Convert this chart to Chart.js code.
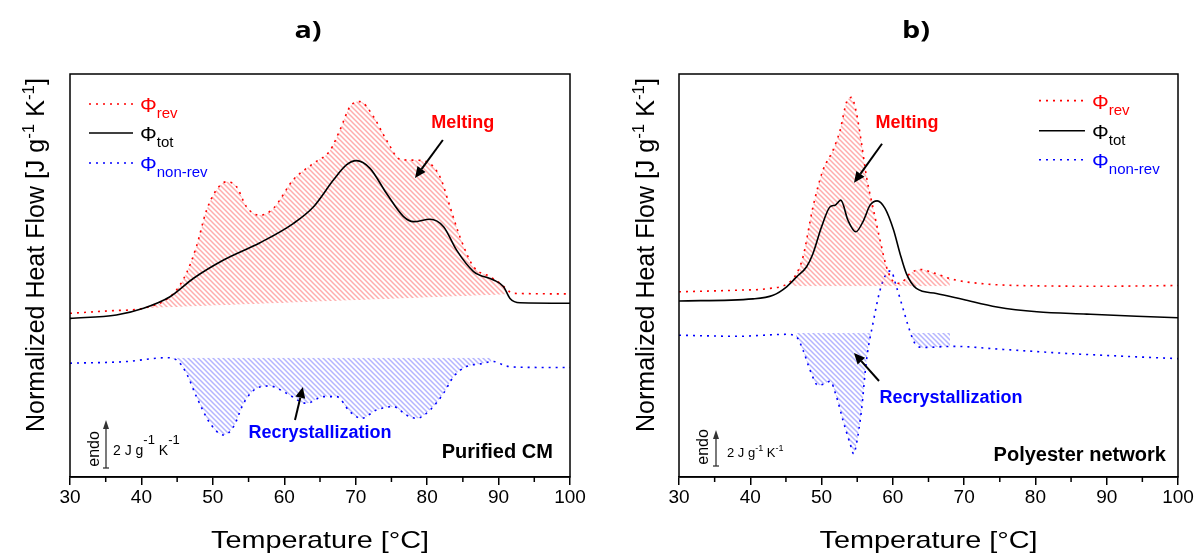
<!DOCTYPE html>
<html>
<head>
<meta charset="utf-8">
<script src="https://cdn.jsdelivr.net/npm/chart.js@4.4.1/dist/chart.umd.min.js"></script>
<style>
html, body { margin: 0; padding: 0; background: #fff; }
#wrap { position: relative; width: 1199px; height: 555px; overflow: hidden; }
canvas { position: absolute; top: 0; }
#chartA { left: 0; }
#chartB { left: 600px; }
</style>
</head>
<body>
<div id="wrap">
  <canvas id="chartA" width="600" height="555"></canvas>
  <canvas id="chartB" width="599" height="555"></canvas>
</div>
<script>
// x ticks (temperature, °C)
const xTicks = [30, 40, 50, 60, 70, 80, 90, 100];
const xMinor = [35, 45, 55, 65, 75, 85, 95];

// PANEL a) Purified CM  (heat flow in J g-1 K-1, arbitrary offset)
const tRevA = [30, 36, 40.3, 44.5, 46.3, 47.7, 49.1, 50.5, 51.9, 53.3, 54.7, 56.6, 58.5, 61.3, 64.1, 66.4, 67.8, 69.2, 70.6, 72.5, 74.3, 76.2, 78.1, 79.9, 81.8, 83.2, 84.6, 86.5, 88.8, 90.2, 92.1, 100];
const revA  = [6.82, 6.93, 7.03, 7.65, 8.49, 9.6, 11.1, 11.96, 12.3, 12.1, 11.26, 10.9, 11.2, 12.4, 13.07, 13.6, 14.46, 15.43, 15.64, 15.01, 14.04, 13.24, 13.2, 13.14, 12.5, 11.26, 10.0, 8.76, 8.35, 8.07, 7.65, 7.63];
const tTotA = [30, 36.5, 40.3, 44, 47.3, 51.5, 56.6, 61.3, 64.1, 66.9, 68.7, 70.1, 72, 74.3, 76.7, 78.1, 80.4, 82.3, 84.1, 86.5, 89.3, 90.7, 91.6, 93, 100];
const totA  = [6.61, 6.75, 7.03, 7.51, 8.28, 9.04, 9.76, 10.57, 11.26, 12.38, 13.0, 13.18, 12.86, 11.82, 10.85, 10.64, 10.74, 10.43, 9.46, 8.56, 8.21, 7.93, 7.44, 7.26, 7.24];
const tNonA = [30, 37.9, 43.5, 44.9, 46.3, 47.7, 49.6, 51.5, 52.9, 54.3, 56.1, 58, 60.3, 63.1, 65.5, 67.3, 69.2, 70.8, 72.9, 75.3, 77.1, 78.5, 80.4, 82.3, 83.7, 85.5, 87.4, 89.3, 91.1, 93.9, 100];
const nonA  = [4.74, 4.81, 4.97, 4.88, 4.32, 3.35, 2.24, 1.75, 2.1, 3.07, 3.69, 3.79, 3.49, 3.07, 3.35, 3.35, 2.72, 2.44, 2.79, 2.93, 2.58, 2.44, 2.79, 3.49, 4.18, 4.6, 4.71, 4.81, 4.62, 4.57, 4.56];
// baselines of the hatched areas
const tRevBaseA = [40.3, 91];
const revBaseA  = [7.03, 7.6];
const tNonBaseA = [44, 89];
const nonBaseA  = [4.97, 4.97];

// PANEL b) Polyester network
const tRevB = [30, 38.1, 42.8, 45.1, 46.5, 47.4, 48.8, 50.2, 51.6, 52.6, 53.5, 54.2, 54.9, 55.6, 56.3, 57.3, 58.2, 59.1, 60.1, 61, 62.4, 63.8, 65.7, 68.5, 73.2, 80.2, 89.5, 100];
const revB  = [10.28, 10.37, 10.47, 10.71, 11.29, 12.23, 15.0, 17.04, 18.13, 19.25, 20.8, 21.07, 20.19, 18.53, 16.67, 14.8, 13.15, 11.67, 10.84, 10.75, 11.29, 11.52, 11.33, 10.96, 10.71, 10.61, 10.59, 10.63];
const tTotB = [30, 40.4, 43.2, 45.1, 46.5, 47.9, 48.8, 50, 51.2, 51.9, 52.7, 53.7, 54.8, 55.9, 56.8, 57.8, 58.9, 60.1, 61, 61.9, 63.3, 66.1, 69.9, 74.6, 80.2, 87.2, 94.2, 100];
const totB  = [9.77, 9.89, 10.09, 10.56, 11.11, 11.67, 12.41, 13.89, 15.0, 15.09, 15.37, 14.25, 13.61, 14.25, 15.09, 15.33, 14.91, 13.71, 12.41, 11.29, 10.47, 10.19, 9.85, 9.44, 9.17, 9.04, 8.92, 8.84];
const tNonB = [30, 38.1, 45.1, 46.5, 47.4, 48.4, 49.5, 50.5, 51.2, 52.1, 53, 54, 54.5, 54.9, 55.6, 56.3, 57.3, 58.2, 59.1, 59.7, 60.5, 61.5, 62.2, 63.1, 64.3, 68.5, 75.5, 84.8, 94.2, 100];
const nonB  = [7.87, 7.81, 7.92, 7.77, 7.04, 5.92, 5.09, 5.19, 5.32, 4.44, 3.15, 1.85, 1.29, 1.85, 3.71, 6.48, 8.71, 10.37, 11.29, 11.44, 10.56, 9.25, 8.33, 7.41, 7.19, 7.25, 7.08, 6.85, 6.67, 6.57];
const tRevBaseB = [45.8, 68];
const revBaseB  = [10.59, 10.59];
const tNonBaseB = [46.4, 68];
const nonBaseB  = [8.0, 8.0];

const RED = '#ff0000';
const BLUE = '#0000ff';
const SANS = '"Liberation Sans", Arial, sans-serif';

const zip = (ts, vs) => ts.map((t, i) => ({ x: t, y: vs[i] }));

// diagonal hatch pattern
function hatch(color) {
    const s = 5;
    const c = document.createElement('canvas');
    c.width = s; c.height = s;
    const g = c.getContext('2d');
    g.strokeStyle = color;
    g.lineWidth = 1.5;
    g.beginPath();
    for (let k = -1; k <= 1; k++) {
        g.moveTo(-1, k * s - 1);
        g.lineTo(s + 1, s + k * s + 1);
    }
    g.stroke();
    return g.createPattern(c, 'repeat');
}

// text made of parts (for sub/superscripts)
function rich(ctx, parts, x, y, align) {
    let w = 0;
    parts.forEach(p => { ctx.font = p.f; w += ctx.measureText(p.t).width; });
    let cx = align === 'center' ? x - w / 2 : (align === 'right' ? x - w : x);
    ctx.textAlign = 'left';
    ctx.textBaseline = 'alphabetic';
    parts.forEach(p => {
        ctx.font = p.f;
        ctx.fillStyle = p.c || '#000';
        ctx.fillText(p.t, cx, y + (p.dy || 0));
        cx += ctx.measureText(p.t).width;
    });
    return w;
}

function arrow(ctx, x1, y1, x2, y2, head, half) {
    const a = Math.atan2(y2 - y1, x2 - x1);
    const bx = x2 - head * Math.cos(a), by = y2 - head * Math.sin(a);
    ctx.beginPath();
    ctx.moveTo(x1, y1);
    ctx.lineTo(bx, by);
    ctx.stroke();
    ctx.beginPath();
    ctx.moveTo(x2, y2);
    ctx.lineTo(bx + half * Math.sin(a), by - half * Math.cos(a));
    ctx.lineTo(bx - half * Math.sin(a), by + half * Math.cos(a));
    ctx.closePath();
    ctx.fill();
}

// frame, minor ticks, titles, legend and labels
const decor = {
    id: 'decor',
    afterDraw(chart, args, o) {
        const ctx = chart.ctx;
        const xs = chart.scales.x, ys = chart.scales.y, ca = chart.chartArea;
        const P = p => [xs.getPixelForValue(p[0]), ys.getPixelForValue(p[1])];
        ctx.save();

        // frame
        ctx.strokeStyle = '#000';
        ctx.lineWidth = 1.5;
        ctx.strokeRect(ca.left, ca.top, ca.right - ca.left, ca.bottom - ca.top);
        xMinor.forEach(v => {
            const px = xs.getPixelForValue(v);
            ctx.beginPath();
            ctx.moveTo(px, ca.bottom);
            ctx.lineTo(px, ca.bottom + 5);
            ctx.stroke();
        });

        // panel title
        ctx.fillStyle = '#000';
        ctx.font = 'bold 24px "Open Sans", sans-serif';
        ctx.textAlign = 'center';
        ctx.textBaseline = 'middle';
        ctx.save();
        ctx.translate(o.titleX, 31);
        ctx.scale(1.2, 1);
        ctx.fillText(o.title, 0, 0);
        ctx.restore();

        // x title
        ctx.save();
        ctx.font = '24px ' + SANS;
        const xt = 'Temperature [°C]';
        const wx = ctx.measureText(xt).width;
        ctx.translate((ca.left + ca.right) / 2, 548);
        ctx.scale(218 / wx, 1);
        ctx.textAlign = 'center';
        ctx.textBaseline = 'alphabetic';
        ctx.fillText(xt, 0, 0);
        ctx.restore();

        // y title
        ctx.save();
        ctx.translate(o.yTitleX, 255);
        ctx.rotate(-Math.PI / 2);
        const big = '25px ' + SANS, sup = '17px ' + SANS;
        rich(ctx, [
            { t: 'Normalized Heat Flow [J g', f: big },
            { t: '-1', f: sup, dy: -10 },
            { t: ' K', f: big },
            { t: '-1', f: sup, dy: -10 },
            { t: ']', f: big }
        ], 0, 0, 'center');
        ctx.restore();

        // legend
        const L = o.legend;
        const rows = [
            { c: RED, dash: [2, 5], sub: 'rev' },
            { c: '#000', dash: [], sub: 'tot' },
            { c: BLUE, dash: [2, 5], sub: 'non-rev' }
        ];
        rows.forEach((r, i) => {
            const [x0, y] = P([L.x0, L.ys[i]]);
            const [x1] = P([L.x1, L.ys[i]]);
            const [xt2] = P([L.xt, L.ys[i]]);
            ctx.strokeStyle = r.c;
            ctx.lineWidth = 1.6;
            ctx.setLineDash(r.dash);
            ctx.beginPath();
            ctx.moveTo(x0, y);
            ctx.lineTo(x1, y);
            ctx.stroke();
            ctx.setLineDash([]);
            rich(ctx, [
                { t: 'Φ', f: '21px ' + SANS, c: r.c },
                { t: r.sub, f: '15px ' + SANS, c: r.c, dy: 6 }
            ], xt2, y + 8, 'left');
        });

        // labels with arrows
        ctx.textAlign = 'center';
        ctx.textBaseline = 'middle';
        ctx.font = 'bold 18px ' + SANS;
        let p = P(o.melt.at);
        ctx.fillStyle = RED;
        ctx.fillText('Melting', p[0], p[1]);
        p = P(o.recr.at);
        ctx.fillStyle = BLUE;
        ctx.fillText('Recrystallization', p[0], p[1]);
        ctx.fillStyle = '#000';
        ctx.strokeStyle = '#000';
        ctx.lineWidth = 2;
        [o.melt, o.recr].forEach(a => {
            const f = P(a.from), t = P(a.to);
            arrow(ctx, f[0], f[1], t[0], t[1], 11, 5);
        });

        // sample name
        ctx.font = 'bold 20px ' + SANS;
        ctx.textAlign = 'right';
        p = P(o.sample.at);
        ctx.fillText(o.sample.text, p[0], p[1]);

        // endo scale bar
        const S = o.scale;
        const b0 = P([S.x, S.y0]), b1 = P([S.x, S.y0 + 2]);
        ctx.strokeStyle = '#333';
        ctx.fillStyle = '#333';
        ctx.lineWidth = 1.3;
        arrow(ctx, b0[0], b0[1], b1[0], b1[1], 9, 3);
        ctx.beginPath();
        ctx.moveTo(b0[0] - 3, b0[1]);
        ctx.lineTo(b0[0] + 3, b0[1]);
        ctx.stroke();
        const e = P([S.endoX, S.endoY]);
        ctx.save();
        ctx.translate(e[0], e[1]);
        ctx.rotate(-Math.PI / 2);
        ctx.fillStyle = '#000';
        ctx.font = '16px ' + SANS;
        ctx.textAlign = 'center';
        ctx.textBaseline = 'alphabetic';
        ctx.fillText('endo', 0, 0);
        ctx.restore();
        const tp = P([S.textX, S.textY]);
        rich(ctx, [
            { t: '2 J g', f: S.font },
            { t: '-1', f: S.supFont, dy: -S.rise },
            { t: ' K', f: S.font },
            { t: '-1', f: S.supFont, dy: -S.rise }
        ], tp[0], tp[1], 'left');

        ctx.restore();
    }
};

function makeChart(id, series, pad, yMax, ann) {
    const redHatch = hatch('rgba(255, 60, 60, 0.42)');
    const blueHatch = hatch('rgba(60, 60, 255, 0.38)');
    return new Chart(document.getElementById(id), {
        type: 'line',
        data: {
            datasets: [
                { label: 'revBase', data: series.revBase, borderWidth: 0, pointRadius: 0, fill: false, order: 3 },
                {
                    label: 'Φrev', data: series.rev, borderColor: RED, borderWidth: 1.6, borderDash: [2, 5],
                    pointRadius: 0, cubicInterpolationMode: 'monotone', order: 1,
                    fill: { target: 0, above: redHatch, below: 'rgba(0,0,0,0)' }
                },
                {
                    label: 'Φtot', data: series.tot, borderColor: '#000', borderWidth: 1.6,
                    pointRadius: 0, cubicInterpolationMode: 'monotone', fill: false, order: 0
                },
                { label: 'nonBase', data: series.nonBase, borderWidth: 0, pointRadius: 0, fill: false, order: 3 },
                {
                    label: 'Φnon-rev', data: series.non, borderColor: BLUE, borderWidth: 1.6, borderDash: [2, 5],
                    pointRadius: 0, cubicInterpolationMode: 'monotone', order: 1,
                    fill: { target: 3, above: 'rgba(0,0,0,0)', below: blueHatch }
                }
            ]
        },
        options: {
            animation: false,
            responsive: false,
            devicePixelRatio: 1,
            layout: { padding: { left: pad.left, right: pad.right, top: 74, bottom: 0 } },
            plugins: { legend: { display: false }, tooltip: { enabled: false }, decor: ann },
            scales: {
                x: {
                    type: 'linear', min: 30, max: 100,
                    afterBuildTicks: s => { s.ticks = xTicks.map(v => ({ value: v })); },
                    afterFit: s => { s.height = 78; },
                    ticks: { color: '#000', font: { size: 19, family: SANS }, padding: 1, maxRotation: 0 },
                    grid: { drawOnChartArea: false, tickLength: 8, color: '#000', lineWidth: 1.5 },
                    border: { color: '#000', width: 1.5 }
                },
                y: { type: 'linear', min: 0, max: yMax, display: false }
            }
        },
        plugins: [decor]
    });
}

makeChart('chartA', {
    rev: zip(tRevA, revA), tot: zip(tTotA, totA), non: zip(tNonA, nonA),
    revBase: zip(tRevBaseA, revBaseA), nonBase: zip(tNonBaseA, nonBaseA)
}, { left: 70, right: 30 }, 16.79, {
    title: 'a)', titleX: 308, yTitleX: 44,
    legend: { x0: 32.66, x1: 38.82, xt: 39.8, ys: [15.54, 14.33, 13.08] },
    melt: { at: [85.0, 14.75], from: [82.2, 14.04], to: [78.3, 12.46] },
    recr: { at: [65, 1.83], from: [61.5, 2.375], to: [62.6, 3.75] },
    sample: { text: 'Purified CM', at: [97.6, 1.04] },
    scale: { x: 35.04, y0: 0.375, endoX: 34.0, endoY: 1.17, textX: 36.02, textY: 0.92,
             font: '14px ' + SANS, supFont: '13px ' + SANS, rise: 11 }
});

makeChart('chartB', {
    rev: zip(tRevB, revB), tot: zip(tTotB, totB), non: zip(tNonB, nonB),
    revBase: zip(tRevBaseB, revBaseB), nonBase: zip(tNonBaseB, nonBaseB)
}, { left: 79, right: 21 }, 22.37, {
    title: 'b)', titleX: 316, yTitleX: 54,
    legend: { x0: 80.5, x1: 86.95, xt: 87.94, ys: [20.89, 19.22, 17.61] },
    melt: { at: [62.0, 19.67], from: [58.48, 18.5], to: [54.55, 16.33] },
    recr: { at: [68.16, 4.39], from: [58.06, 5.33], to: [54.55, 6.89] },
    sample: { text: 'Polyester network', at: [98.3, 1.22] },
    scale: { x: 35.19, y0: 0.61, endoX: 34.1, endoY: 1.67, textX: 36.73, textY: 1.11,
             font: '13px ' + SANS, supFont: '9px ' + SANS, rise: 6 }
});
</script>
</body>
</html>
